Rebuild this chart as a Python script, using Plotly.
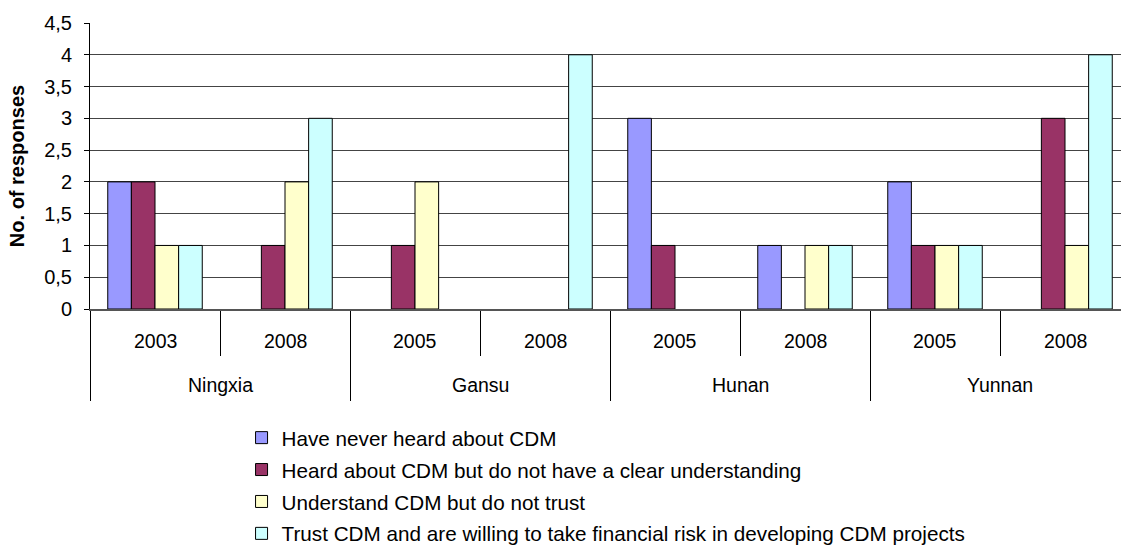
import plotly.graph_objects as go

provinces = ["Ningxia", "Gansu", "Hunan", "Yunnan"]
years = ["2003", "2008", "2005", "2008", "2005", "2008", "2005", "2008"]

series_names = [
    "Have never heard about CDM",
    "Heard about CDM but do not have a clear understanding",
    "Understand CDM but do not trust",
    "Trust CDM and are willing to take financial risk in developing CDM projects",
]
never_heard = [2, 0, 0, 0, 3, 1, 2, 0]
heard_unclear = [2, 1, 1, 0, 1, 0, 1, 3]
understand_no_trust = [1, 2, 2, 0, 0, 1, 1, 1]
trust_willing = [1, 3, 0, 4, 0, 1, 1, 4]

colors = ["#9999FF", "#993366", "#FFFFCC", "#CCFFFF"]
values = [never_heard, heard_unclear, understand_no_trust, trust_willing]

FONT = "Liberation Sans, Arial, sans-serif"
FS = 20
FS_CAT = 19.5
FS_LEG = 20.7

x_pos = list(range(len(years)))

fig = go.Figure()
for name, vals, col in zip(series_names, values, colors):
    # empty bars get no outline so nothing is stroked along the baseline
    outline = [0 if v == 0 else 1 for v in vals]
    fig.add_trace(go.Bar(
        x=x_pos, y=vals, name=name, legendgroup=name,
        marker=dict(color=col, line=dict(color="#000000", width=outline)),
    ))

# two-level category labels: years under each group, provinces under each pair
for i, yr in enumerate(years):
    fig.add_annotation(x=i, y=-0.113, xref="x", yref="paper", text=yr,
                       showarrow=False, font=dict(family=FONT, size=FS_CAT, color="#000"),
                       xanchor="center", yanchor="middle")
for j, prov in enumerate(provinces):
    fig.add_annotation(x=2 * j + 0.5, y=-0.2666, xref="x", yref="paper", text=prov,
                       showarrow=False, font=dict(family=FONT, size=FS_CAT, color="#000"),
                       xanchor="center", yanchor="middle")

fig.update_layout(
    width=1121, height=545,
    margin=dict(l=90, r=0, t=22.5, b=235.5, autoexpand=False),
    paper_bgcolor="white", plot_bgcolor="white",
    separators=", ",
    barmode="group", bargap=0.273, bargroupgap=0,
    font=dict(family=FONT, size=FS, color="#000"),
    showlegend=True,
    legend=dict(
        x=0.147, y=-0.38, xanchor="left", yanchor="top",
        font=dict(family=FONT, size=FS_LEG, color="#000"),
        traceorder="grouped", tracegroupgap=2,
        itemwidth=30, bgcolor="rgba(0,0,0,0)",
    ),
    xaxis=dict(
        range=[-0.5, -0.5 + 1031 / 130],
        showticklabels=False, showgrid=False, zeroline=False,
        showline=True, linecolor="#555", linewidth=1.5,
        tickmode="linear", tick0=-0.5, dtick=2,
        ticks="outside", ticklen=90, tickcolor="#000", tickwidth=1,
        minor=dict(tickmode="linear", tick0=0.5, dtick=2, ticks="outside",
                   ticklen=45, tickcolor="#000", tickwidth=1, showgrid=False),
    ),
    yaxis=dict(
        range=[0, 4.5], tickmode="linear", tick0=0, dtick=0.5,
        showgrid=True, gridcolor="#444", gridwidth=1,
        zeroline=False, showline=True, linecolor="#000", linewidth=1,
        ticks="outside", ticklen=5, tickcolor="#000",
        ticklabelstandoff=8,
        tickfont=dict(family=FONT, size=FS, color="#000"),
        title=dict(text="<b>No. of responses</b>", standoff=14,
                   font=dict(family=FONT, size=FS, color="#000")),
    ),
)

fig.write_html("out.html")
